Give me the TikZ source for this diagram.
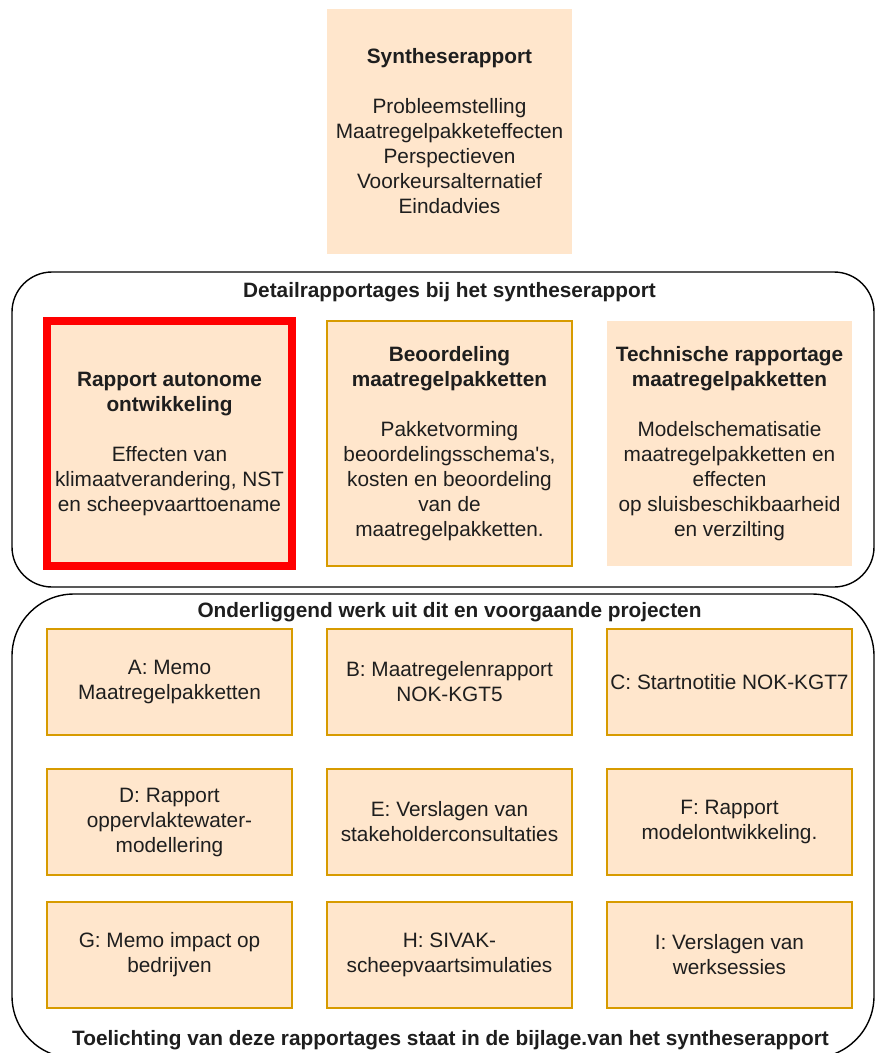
\documentclass[tikz,border=0pt]{standalone}
\usepackage{fontspec}
\setmainfont{Liberation Sans}[Ligatures=TeXOff]
\definecolor{peach}{HTML}{FFE6CC}
\definecolor{orangeline}{HTML}{D79B00}
\definecolor{txt}{HTML}{1E1E1E}
\begin{document}
\begin{tikzpicture}[x=1pt,y=-1pt,
  base/.style={rectangle, fill=peach, align=center, inner sep=0pt, text=txt,
    font=\fontsize{20.8}{25}\selectfont},
  bigbox/.style={base, minimum width=245pt, minimum height=245pt},
  gridbox/.style={base, draw=orangeline, line width=1.5pt, minimum width=245pt, minimum height=106pt},
  container/.style={rectangle, draw=black, line width=1.4pt, fill=none, inner sep=0pt},
  ctitle/.style={inner sep=0pt, text=txt, font=\fontsize{20.8}{25}\selectfont\bfseries}
]
\useasboundingbox (0,0) rectangle (875,1053);
\fill[white] (0,0) rectangle (875,1053);

% top box
\node[bigbox] (synth) at (449.5,131.5) {\textbf{Syntheserapport}\\[25pt]Probleemstelling\\Maatregelpakketeffecten\\Perspectieven\\Voorkeursalternatief\\Eindadvies};

% detail container
\node[container, rounded corners=40pt, minimum width=862pt, minimum height=315pt] (detail) at (443,429.5) {};
\node[ctitle] (detailtitle) at (449.5,292) {Detailrapportages bij het syntheserapport};

\node[bigbox, draw=red, line width=8pt, minimum width=245pt, minimum height=245pt] (auto) at (169.5,443.5)
  {\textbf{Rapport autonome}\\\textbf{ontwikkeling}\\[25pt]Effecten van\\klimaatverandering, NST\\en scheepvaarttoename};
\node[bigbox, draw=orangeline, line width=1.5pt] (beoord) at (449.5,443.5)
  {\textbf{Beoordeling}\\\textbf{maatregelpakketten}\\[25pt]Pakketvorming\\beoordelingsschema's,\\kosten en beoordeling\\van de\\maatregelpakketten.};
\node[bigbox] (techn) at (729.5,443.5)
  {\textbf{Technische rapportage}\\\textbf{maatregelpakketten}\\[25pt]Modelschematisatie\\maatregelpakketten en\\effecten\\op sluisbeschikbaarheid\\en verzilting};

% bottom container
\node[container, rounded corners=62pt, minimum width=862pt, minimum height=464pt] (onder) at (443,826) {};
\node[ctitle] (ondertitle) at (449.5,612) {Onderliggend werk uit dit en voorgaande projecten};

\node[gridbox] (A) at (169.5,682) {A: Memo\\Maatregelpakketten};
\node[gridbox] (B) at (449.5,682) {B: Maatregelenrapport\\NOK-KGT5};
\node[gridbox] (C) at (729.5,682) {C: Startnotitie NOK-KGT7};

\node[gridbox] (D) at (169.5,822) {D: Rapport\\oppervlaktewater-\\modellering};
\node[gridbox] (E) at (449.5,822) {E: Verslagen van\\stakeholderconsultaties};
\node[gridbox] (F) at (729.5,822) {F: Rapport\\modelontwikkeling.};

\node[gridbox] (G) at (169.5,955) {G: Memo impact op\\bedrijven};
\node[gridbox] (H) at (449.5,955) {H: SIVAK-\\scheepvaartsimulaties};
\node[gridbox] (I) at (729.5,955) {I: Verslagen van\\werksessies};

\node[ctitle] (footer) at (450.5,1040) {Toelichting van deze rapportages staat in de bijlage.van het syntheserapport};
\end{tikzpicture}
\end{document}
